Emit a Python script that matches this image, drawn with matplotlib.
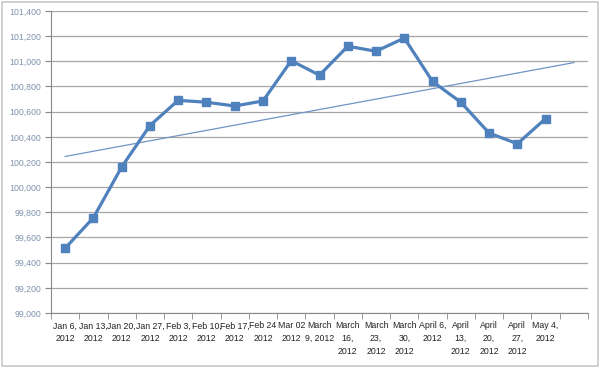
import matplotlib.pyplot as plt
import numpy as np
from matplotlib.patches import Rectangle
from matplotlib.ticker import FuncFormatter, FixedLocator

# weekly values
dates = ['Jan 6,\n2012', 'Jan 13,\n2012', 'Jan 20,\n2012', 'Jan 27,\n2012',
         'Feb 3,\n2012', 'Feb 10,\n2012', 'Feb 17,\n2012', 'Feb 24\n2012',
         'Mar 02\n2012', 'March\n9, 2012', 'March\n16,\n2012', 'March\n23,\n2012',
         'March\n30,\n2012', 'April 6,\n2012', 'April\n13,\n2012', 'April\n20,\n2012',
         'April\n27,\n2012', 'May 4,\n2012', '']
values = [99515, 99757, 100160, 100490, 100690, 100675, 100645, 100685,
          101005, 100890, 101120, 101080, 101185, 100840, 100675, 100430,
          100345, 100545]

blue = '#4f81bd'
plt.rcParams['font.family'] = ['Liberation Sans', 'DejaVu Sans']

fig = plt.figure(figsize=(6, 3.68), dpi=100)
ax = fig.add_axes([51/600, 1 - 313/368, 537/600, 302/368])

x = np.arange(1, len(values) + 1)
ax.plot(x, values, color=blue, lw=2.3, marker='s', ms=6, zorder=3)

# linear trend over the data, drawn across all categories
k, b = np.polyfit(x, values, 1)
xt = np.array([1, len(dates)])
ax.plot(xt, k * xt + b, color='#6f95c4', lw=0.9, zorder=2)

ax.set_xlim(0.5, len(dates) + 0.5)
ax.set_ylim(99000, 101400)
ax.set_yticks(np.arange(99000, 101401, 200))
ax.yaxis.set_major_formatter(FuncFormatter(lambda v, p: f'{int(v):,}'))
ax.yaxis.grid(True, color='#a6a6a6', lw=0.9)
ax.set_axisbelow(True)

ax.set_xticks(np.arange(1, len(dates) + 1))
ax.set_xticklabels(dates, fontsize=6.3, color='#222222', linespacing=1.55)
ax.tick_params(axis='x', which='major', length=0, pad=6)
ax.xaxis.set_minor_locator(FixedLocator(np.arange(0.5, len(dates) + 1, 1)))
ax.tick_params(axis='x', which='minor', length=4, color='#888888')
ax.tick_params(axis='y', labelsize=6.3, labelcolor='#7f93ad', length=4, color='#888888', pad=3)

for s in ['top', 'right']:
    ax.spines[s].set_visible(False)
ax.spines['left'].set_color('#888888')
ax.spines['bottom'].set_color('#888888')

fig.patches.append(Rectangle((2/600, 2/368), 596/600, 364/368, transform=fig.transFigure,
                             fill=False, edgecolor='#c8c8c8', lw=1.2))

fig.savefig('out.png', dpi=100)
